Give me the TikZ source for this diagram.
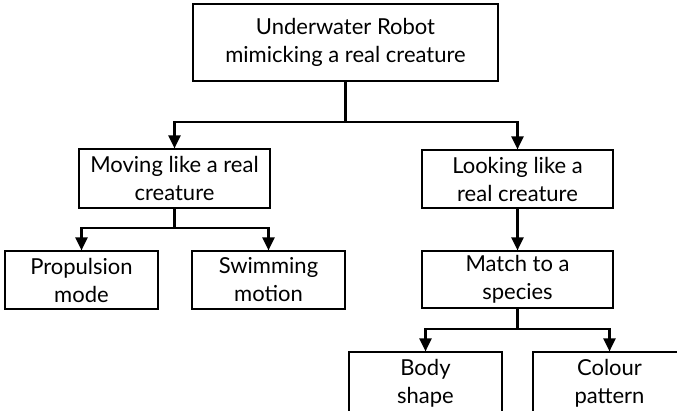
\documentclass[tikz,border=0pt]{standalone}
\usepackage{fontspec}
\setmainfont{Lato}
\usetikzlibrary{arrows.meta}
\begin{document}
\begin{tikzpicture}[x=1pt,y=-1pt,
  box/.style={draw, line width=1.2pt, fill=white, align=center, inner sep=0pt,
    font=\fontsize{22}{28}\selectfont},
  link/.style={line width=2.2pt},
  arrowlink/.style={link, -{Triangle[length=13pt,width=12pt]}}]
\useasboundingbox (0,0) rectangle (677,410);
\clip (0,0) rectangle (677,410);
% boxes given by their corners
\node[box, minimum width=305pt, minimum height=77pt] (root) at (345.5,42.5) {Underwater Robot\\mimicking a real creature};
\node[box, minimum width=191pt, minimum height=59pt] (move) at (174.5,178.5) {Moving like a real\\creature};
\node[box, minimum width=191pt, minimum height=58pt] (look) at (517.5,179) {Looking like a\\real creature};
\node[box, minimum width=153pt, minimum height=58pt] (prop) at (81.5,280) {Propulsion\\mode};
\node[box, minimum width=153pt, minimum height=58pt] (swim) at (268.5,280) {Swimming\\motion};
\node[box, minimum width=191pt, minimum height=57pt] (match) at (517.5,279.5) {Match to a\\species};
\node[box, minimum width=153pt, minimum height=63pt] (body) at (425.5,383.5) {Body\\shape};
\node[box, minimum width=153pt, minimum height=63pt] (colour) at (609.5,383.5) {Colour\\pattern};
% junction points of the branching connectors
\coordinate (j1) at (root.south |- 0,122);
\coordinate (j2) at (move.south |- 0,228);
\coordinate (j3) at (match.south |- 0,329);
\draw[link] (root.south) -- (j1);
\draw[arrowlink] (j1) -| (move.north);
\draw[arrowlink] (j1) -| (look.north);
\draw[link] (move.south) -- (j2);
\draw[arrowlink] (j2) -| (prop.north);
\draw[arrowlink] (j2) -| (swim.north);
\draw[arrowlink] (look.south) -- (match.north);
\draw[link] (match.south) -- (j3);
\draw[arrowlink] (j3) -| (body.north);
\draw[arrowlink] (j3) -| (colour.north);
\end{tikzpicture}
\end{document}
